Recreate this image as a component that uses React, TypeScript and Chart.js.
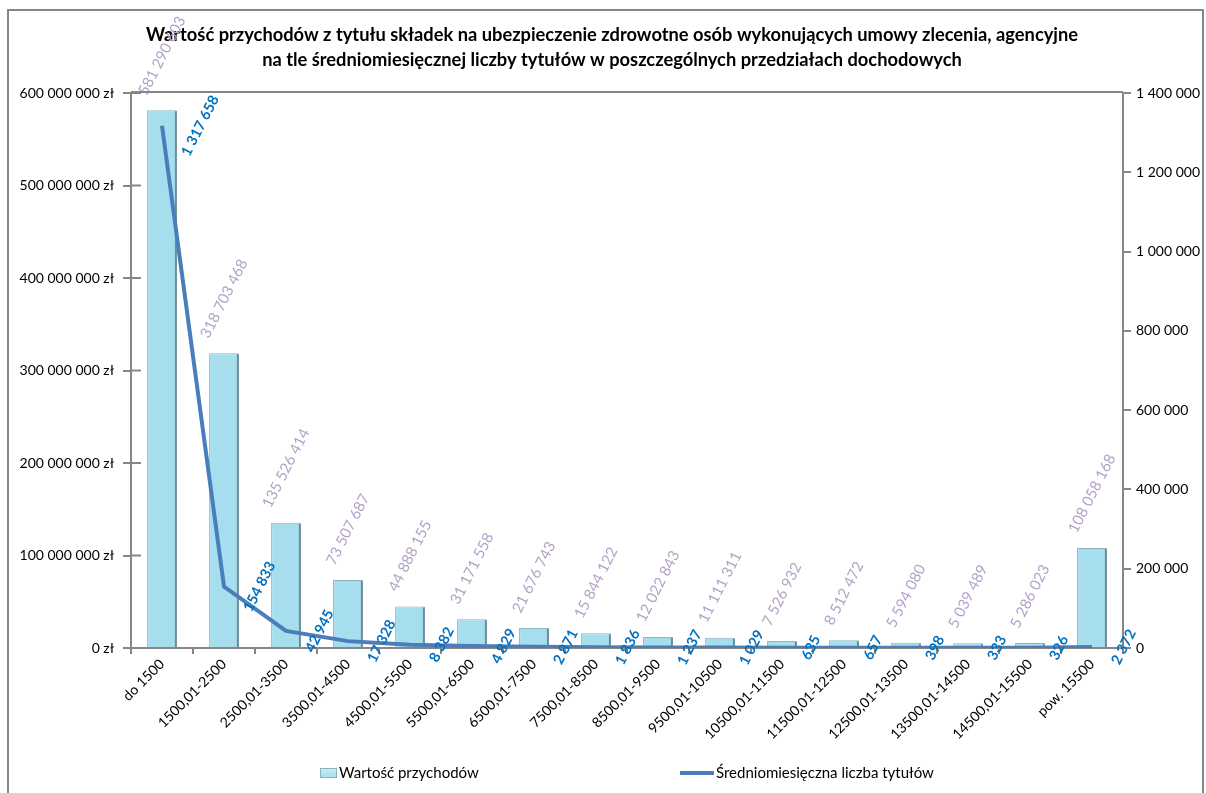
import React, { useEffect, useRef } from "react";
import { Chart, registerables } from "chart.js";

Chart.register(...registerables);

const categories = [
  "do 1500",
  "1500,01-2500",
  "2500,01-3500",
  "3500,01-4500",
  "4500,01-5500",
  "5500,01-6500",
  "6500,01-7500",
  "7500,01-8500",
  "8500,01-9500",
  "9500,01-10500",
  "10500,01-11500",
  "11500,01-12500",
  "12500,01-13500",
  "13500,01-14500",
  "14500,01-15500",
  "pow. 15500",
];

const revenueValues = [
  581290603, 318703468, 135526414, 73507687, 44888155, 31171558, 21676743,
  15844122, 12022843, 11111311, 7526932, 8512472, 5594080, 5039489, 5286023,
  108058168,
];

const titleCounts = [
  1317658, 154833, 42945, 17328, 8382, 4829, 2871, 1836, 1237, 1029, 635, 657,
  398, 333, 326, 2372,
];

const titleLines = [
  "Wartość przychodów z tytułu składek na ubezpieczenie zdrowotne osób wykonujących umowy zlecenia, agencyjne",
  "na tle średniomiesięcznej liczby tytułów w poszczególnych przedziałach dochodowych",
];

const seriesNames = ["Wartość przychodów", "Średniomiesięczna liczba tytułów"];

const leftMax = 600000000;
const leftStep = 100000000;
const rightMax = 1400000;
const rightStep = 200000;

const FONT = "Lato, 'Open Sans', 'DejaVu Sans', sans-serif";
const AXIS_GRAY = "#868686";
const BAR_FILL = "#A6DEEE";
const BAR_BORDER = "#8DB3BF";
const BAR_SHADE = "#6F8E98";
const LINE_COLOR = "#4A7EBB";
const BAR_LABEL = "#B3A2C7";
const LINE_LABEL = "#0070C0";

function fmt(n: number): string {
  return Math.round(n)
    .toString()
    .replace(/\B(?=(\d{3})+(?!\d))/g, " ");
}

const ANG = (-63 * Math.PI) / 180;
const SIN = Math.sin(Math.abs(ANG));
const COS = Math.cos(Math.abs(ANG));

const decorPlugin = {
  id: "decor",
  beforeDraw(chart: any) {
    const ctx = chart.ctx as CanvasRenderingContext2D;
    const { width, height } = chart;
    ctx.save();
    ctx.fillStyle = "#ffffff";
    ctx.fillRect(0, 0, width, height);
    ctx.strokeStyle = AXIS_GRAY;
    ctx.lineWidth = 2;
    ctx.strokeRect(8, 10, width - 11, height + 20);
    ctx.fillStyle = "#000";
    ctx.font = `bold 18.3px ${FONT}`;
    ctx.textAlign = "center";
    ctx.textBaseline = "middle";
    ctx.fillText(titleLines[0], 612, 35);
    ctx.fillText(titleLines[1], 612, 60);
    ctx.restore();
  },
  afterDraw(chart: any) {
    const ctx = chart.ctx as CanvasRenderingContext2D;
    const area = chart.chartArea;
    ctx.save();
    ctx.strokeStyle = AXIS_GRAY;
    ctx.lineWidth = 2;
    ctx.beginPath();
    ctx.moveTo(area.left, area.top - 1);
    ctx.lineTo(area.right, area.top - 1);
    ctx.stroke();
    const yScale = chart.scales.y;
    yScale.ticks.forEach((t: any) => {
      const yy = yScale.getPixelForValue(t.value);
      ctx.beginPath();
      ctx.moveTo(area.left, yy);
      ctx.lineTo(area.left + 10, yy);
      ctx.stroke();
    });
    // legend
    const ly = 773;
    ctx.font = `15px ${FONT}`;
    ctx.textBaseline = "middle";
    ctx.textAlign = "left";
    const g = ctx.createLinearGradient(0, ly - 5, 0, ly + 5);
    g.addColorStop(0, "#C9EEF7");
    g.addColorStop(1, BAR_FILL);
    ctx.fillStyle = g;
    ctx.fillRect(320, ly - 5, 16, 9);
    ctx.strokeStyle = BAR_BORDER;
    ctx.lineWidth = 1;
    ctx.strokeRect(320.5, ly - 4.5, 16, 9);
    ctx.fillStyle = "#000";
    ctx.fillText(seriesNames[0], 339, ly);
    ctx.strokeStyle = LINE_COLOR;
    ctx.lineWidth = 4;
    ctx.beginPath();
    ctx.moveTo(680, ly);
    ctx.lineTo(714, ly);
    ctx.stroke();
    ctx.fillText(seriesNames[1], 716, ly);
    ctx.restore();
  },
  afterDatasetDraw(chart: any, args: any) {
    if (args.index !== 0) return;
    const ctx = chart.ctx as CanvasRenderingContext2D;
    ctx.save();
    ctx.strokeStyle = BAR_SHADE;
    ctx.lineWidth = 2;
    args.meta.data.forEach((el: any) => {
      const right = el.x + el.width / 2 - 1;
      ctx.beginPath();
      ctx.moveTo(right, el.y + 1);
      ctx.lineTo(right, el.base);
      ctx.stroke();
    });
    ctx.restore();
  },
  afterDatasetsDraw(chart: any) {
    const ctx = chart.ctx as CanvasRenderingContext2D;
    ctx.save();
    ctx.textAlign = "center";
    ctx.textBaseline = "middle";
    const barMeta = chart.getDatasetMeta(0);
    ctx.font = `15px ${FONT}`;
    ctx.fillStyle = BAR_LABEL;
    barMeta.data.forEach((el: any, i: number) => {
      const txt = fmt(revenueValues[i]);
      const w = ctx.measureText(txt).width;
      const h = 14;
      const halfH = (w * SIN + h * COS) / 2;
      ctx.save();
      ctx.translate(el.x, el.y - 13 - halfH);
      ctx.rotate(ANG);
      ctx.fillText(txt, 0, 0);
      ctx.restore();
    });
    const lineMeta = chart.getDatasetMeta(1);
    ctx.font = `bold 14.5px ${FONT}`;
    ctx.fillStyle = LINE_LABEL;
    lineMeta.data.forEach((el: any, i: number) => {
      const txt = fmt(titleCounts[i]);
      const w = ctx.measureText(txt).width;
      const h = 14;
      const halfW = (w * COS + h * SIN) / 2;
      ctx.save();
      ctx.translate(el.x + 17 + halfW, el.y);
      ctx.rotate(ANG);
      ctx.fillText(txt, 0, 0);
      ctx.restore();
    });
    ctx.restore();
  },
};

export default function App() {
  const canvasRef = useRef<HTMLCanvasElement | null>(null);

  useEffect(() => {
    document.body.style.margin = "0";
    const canvas = canvasRef.current;
    if (!canvas) return;
    const chart = new Chart(canvas, {
      type: "bar",
      data: {
        labels: categories,
        datasets: [
          {
            type: "bar",
            label: seriesNames[0],
            data: revenueValues,
            yAxisID: "y",
            backgroundColor: BAR_FILL,
            borderColor: BAR_BORDER,
            borderWidth: 1,
            categoryPercentage: 1,
            barPercentage: 0.48,
            order: 2,
          },
          {
            type: "line",
            label: seriesNames[1],
            data: titleCounts,
            yAxisID: "y1",
            borderColor: LINE_COLOR,
            backgroundColor: LINE_COLOR,
            borderWidth: 4,
            pointRadius: 0,
            tension: 0,
            order: 1,
          } as any,
        ],
      },
      options: {
        responsive: false,
        animation: false,
        devicePixelRatio: 1,
        layout: { padding: { top: 93, left: 0, right: 0, bottom: 0 } },
        plugins: {
          legend: { display: false },
          title: { display: false },
          tooltip: { enabled: false },
        },
        scales: {
          x: {
            offset: true,
            grid: {
              display: true,
              offset: true,
              drawOnChartArea: false,
              drawTicks: true,
              tickLength: 6,
              color: AXIS_GRAY,
              lineWidth: 2,
            },
            border: { display: true, color: AXIS_GRAY, width: 2 },
            ticks: {
              autoSkip: false,
              maxRotation: 45,
              minRotation: 45,
              padding: 2,
              color: "#000",
              font: { family: FONT, size: 14 },
            },
            afterFit(scale: any) {
              scale.height = 145;
            },
          },
          y: {
            position: "left",
            min: 0,
            max: leftMax,
            grid: {
              display: true,
              drawOnChartArea: false,
              drawTicks: true,
              tickLength: 8,
              color: AXIS_GRAY,
              lineWidth: 2,
            },
            border: { display: true, color: AXIS_GRAY, width: 2 },
            ticks: {
              stepSize: leftStep,
              padding: 9,
              color: "#000",
              font: { family: FONT, size: 14 },
              callback: (v: any) => `${fmt(Number(v))} zł`,
            },
            afterFit(scale: any) {
              scale.width = 131;
            },
          },
          y1: {
            position: "right",
            min: 0,
            max: rightMax,
            grid: {
              display: true,
              drawOnChartArea: false,
              drawTicks: true,
              tickLength: 8,
              color: AXIS_GRAY,
              lineWidth: 2,
            },
            border: { display: true, color: AXIS_GRAY, width: 2 },
            ticks: {
              stepSize: rightStep,
              padding: 5,
              color: "#000",
              font: { family: FONT, size: 14 },
              callback: (v: any) => fmt(Number(v)),
            },
            afterFit(scale: any) {
              scale.width = 83;
            },
          },
        },
      } as any,
      plugins: [decorPlugin],
    });
    return () => chart.destroy();
  }, []);

  return (
    <div style={{ width: 1206, height: 793 }}>
      <canvas
        ref={canvasRef}
        width={1206}
        height={793}
        style={{ width: 1206, height: 793, display: "block" }}
      />
    </div>
  );
}
